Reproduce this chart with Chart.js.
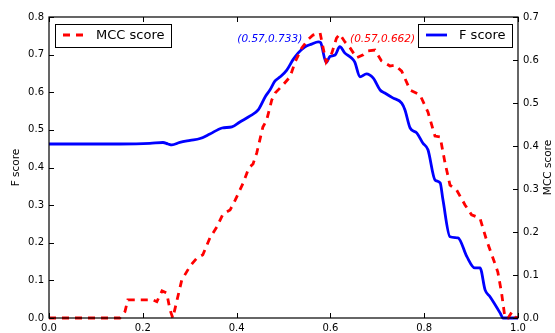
<!DOCTYPE html>
<html><head><meta charset="utf-8">
<script src="https://cdn.jsdelivr.net/npm/chart.js@4/dist/chart.umd.min.js"></script>
<style>html,body{margin:0;padding:0;background:#fff}#wrap{width:555px;height:333px}</style>
</head><body><div id="wrap"><canvas id="c" width="555" height="333"></canvas></div>
<script>
// ---- data ----
const xTicks = [0, 0.2, 0.4, 0.6, 0.8, 1.0];
const fX = [0, 0.151, 0.215, 0.243, 0.254, 0.262, 0.279, 0.301, 0.322, 0.343, 0.369, 0.390, 0.407, 0.429, 0.446, 0.462, 0.471, 0.482, 0.493, 0.507, 0.520, 0.531, 0.546, 0.560, 0.574, 0.579, 0.591, 0.599, 0.610, 0.620, 0.631, 0.645, 0.652, 0.663, 0.677, 0.691, 0.706, 0.716, 0.733, 0.752, 0.759, 0.770, 0.784, 0.797, 0.808, 0.823, 0.834, 0.840, 0.855, 0.872, 0.891, 0.908, 0.919, 0.930, 0.940, 0.962, 0.968, 1.0];
const fScore = [0.4625, 0.4625, 0.464, 0.4665, 0.4625, 0.460, 0.4665, 0.472, 0.477, 0.489, 0.505, 0.508, 0.521, 0.537, 0.553, 0.590, 0.606, 0.630, 0.641, 0.659, 0.686, 0.704, 0.721, 0.728, 0.734, 0.732, 0.679, 0.695, 0.699, 0.721, 0.704, 0.691, 0.680, 0.641, 0.649, 0.638, 0.606, 0.598, 0.585, 0.571, 0.553, 0.505, 0.492, 0.465, 0.447, 0.367, 0.359, 0.314, 0.216, 0.213, 0.163, 0.133, 0.133, 0.074, 0.057, 0.013, 0, 0];
const mX = [0, 0.151, 0.162, 0.168, 0.187, 0.222, 0.230, 0.241, 0.251, 0.258, 0.264, 0.272, 0.283, 0.301, 0.315, 0.328, 0.343, 0.358, 0.371, 0.386, 0.397, 0.414, 0.426, 0.435, 0.443, 0.456, 0.464, 0.475, 0.482, 0.499, 0.514, 0.525, 0.539, 0.552, 0.563, 0.578, 0.584, 0.591, 0.603, 0.613, 0.620, 0.631, 0.642, 0.656, 0.670, 0.680, 0.695, 0.709, 0.727, 0.738, 0.752, 0.770, 0.791, 0.808, 0.823, 0.834, 0.844, 0.855, 0.869, 0.887, 0.901, 0.919, 0.933, 0.951, 0.957, 0.965, 0.972, 0.979, 0.987, 0.994, 1.0];
const mccScore = [0, 0, 0.015, 0.042, 0.042, 0.042, 0.038, 0.063, 0.058, 0.019, 0, 0.037, 0.088, 0.121, 0.139, 0.147, 0.186, 0.212, 0.242, 0.251, 0.274, 0.314, 0.349, 0.358, 0.384, 0.444, 0.460, 0.507, 0.523, 0.542, 0.561, 0.596, 0.628, 0.647, 0.658, 0.663, 0.631, 0.595, 0.616, 0.651, 0.660, 0.642, 0.628, 0.605, 0.612, 0.621, 0.623, 0.598, 0.586, 0.588, 0.574, 0.530, 0.519, 0.479, 0.423, 0.421, 0.363, 0.309, 0.298, 0.263, 0.240, 0.232, 0.181, 0.126, 0.107, 0.058, 0.002, 0, 0.014, 0.002, 0];
const fPeak = [0.57, 0.733];
const mccPeak = [0.57, 0.662];
const fLabel = "F score";
const mccLabel = "MCC score";

const FONT = "'DejaVu Sans', sans-serif";
const BLUE = '#0000ff', RED = '#ff0000';

const decor = {
  id: 'decor',
  afterDatasetsDraw(chart) {
    const {ctx, chartArea: a, scales} = chart;
    const x = scales.x, y = scales.y, y1 = scales.y1;
    ctx.save();
    // frame
    ctx.strokeStyle = '#000'; ctx.lineWidth = 1.2;
    ctx.strokeRect(a.left, a.top, a.right - a.left, a.bottom - a.top);
    // inward ticks
    ctx.lineWidth = 1;
    const T = 5;
    x.ticks.forEach(t => {
      const p = Math.round(x.getPixelForValue(t.value)) + 0.5;
      ctx.beginPath(); ctx.moveTo(p, a.bottom); ctx.lineTo(p, a.bottom - T);
      ctx.moveTo(p, a.top); ctx.lineTo(p, a.top + T); ctx.stroke();
    });
    y.ticks.forEach(t => {
      const p = Math.round(y.getPixelForValue(t.value)) + 0.5;
      ctx.beginPath(); ctx.moveTo(a.left, p); ctx.lineTo(a.left + T, p); ctx.stroke();
    });
    y1.ticks.forEach(t => {
      const p = Math.round(y1.getPixelForValue(t.value)) + 0.5;
      ctx.beginPath(); ctx.moveTo(a.right, p); ctx.lineTo(a.right - T, p); ctx.stroke();
    });
    // annotations
    ctx.font = 'italic 10.5px ' + FONT;
    ctx.textBaseline = 'middle';
    const ty = a.top + 22;
    ctx.fillStyle = BLUE; ctx.textAlign = 'right';
    ctx.fillText('(' + fPeak[0] + ',' + fPeak[1] + ')', x.getPixelForValue(0.54), ty);
    ctx.fillStyle = RED; ctx.textAlign = 'left';
    ctx.fillText('(' + mccPeak[0] + ',' + mccPeak[1] + ')', x.getPixelForValue(0.642), ty);
    // legends
    ctx.font = '13px ' + FONT;
    ctx.textAlign = 'left';
    const drawLegend = (bx, w, label, color, dash) => {
      const by = a.top + 7, h = 23;
      ctx.fillStyle = '#fff'; ctx.fillRect(bx, by, w, h);
      ctx.strokeStyle = '#000'; ctx.lineWidth = 1; ctx.setLineDash([]);
      ctx.strokeRect(bx + 0.5, by + 0.5, w, h);
      ctx.strokeStyle = color; ctx.lineWidth = 2.8; ctx.setLineDash(dash);
      ctx.beginPath(); ctx.moveTo(bx + 8, by + 11); ctx.lineTo(bx + 29, by + 11); ctx.stroke();
      ctx.setLineDash([]);
      ctx.fillStyle = '#000'; ctx.fillText(label, bx + 41, by + 12);
    };
    drawLegend(a.left + 6, 116, mccLabel, RED, [7, 6]);
    drawLegend(a.right - 100, 94, fLabel, BLUE, []);
    // axis titles
    ctx.font = '10.5px ' + FONT; ctx.fillStyle = '#000'; ctx.textAlign = 'center';
    const cy = (a.top + a.bottom) / 2;
    ctx.save(); ctx.translate(16, cy); ctx.rotate(-Math.PI / 2); ctx.fillText(fLabel, 0, 0); ctx.restore();
    ctx.save(); ctx.translate(548, cy); ctx.rotate(-Math.PI / 2); ctx.fillText(mccLabel, 0, 0); ctx.restore();
    ctx.restore();
  }
};

const tickFont = {family: FONT, size: 10};
new Chart(document.getElementById('c'), {
  type: 'line',
  data: {
    datasets: [
      {label: mccLabel, data: mX.map((v, i) => ({x: v, y: mccScore[i]})), yAxisID: 'y1',
       borderColor: RED, borderWidth: 2.8, borderDash: [7, 6], pointRadius: 0, tension: 0, fill: false, clip: 6},
      {label: fLabel, data: fX.map((v, i) => ({x: v, y: fScore[i]})), yAxisID: 'y',
       borderColor: BLUE, borderWidth: 2.8, pointRadius: 0, cubicInterpolationMode: 'monotone', fill: false, clip: 6}
    ]
  },
  options: {
    responsive: false, animation: false, devicePixelRatio: 1,
    layout: {padding: {top: 17, left: 0, right: 0, bottom: 0}},
    plugins: {legend: {display: false}, tooltip: {enabled: false}},
    scales: {
      x: {type: 'linear', min: 0, max: 1, afterFit(s) { s.height = 15; },
          afterBuildTicks(s) { s.ticks = xTicks.map(v => ({value: v})); },
          ticks: {callback: v => Number(v).toFixed(1), font: tickFont, color: '#000', padding: 4, maxRotation: 0, autoSkip: false},
          grid: {display: false, drawTicks: false}, border: {display: false}},
      y: {position: 'left', min: 0, max: 0.8, afterFit(s) { s.width = 49; },
          ticks: {stepSize: 0.1, callback: v => Number(v).toFixed(1), font: tickFont, color: '#000', padding: 5},
          grid: {display: false, drawTicks: false}, border: {display: false}},
      y1: {position: 'right', min: 0, max: 0.7, afterFit(s) { s.width = 37; },
          ticks: {stepSize: 0.1, callback: v => Number(v).toFixed(1), font: tickFont, color: '#000', padding: 5},
          grid: {display: false, drawTicks: false}, border: {display: false}}
    }
  },
  plugins: [decor]
});
</script></body></html>
